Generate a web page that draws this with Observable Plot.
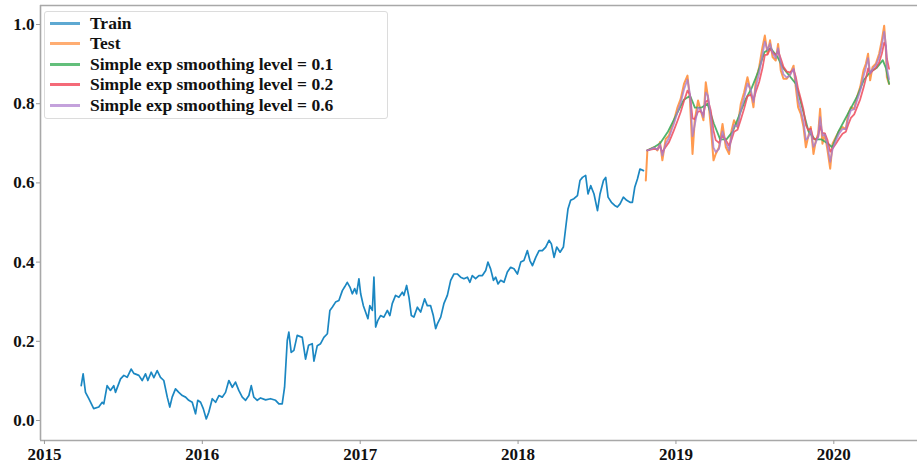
<!DOCTYPE html>
<html>
<head>
<meta charset="utf-8">
<script src="https://cdn.jsdelivr.net/npm/d3@7"></script>
<script src="https://cdn.jsdelivr.net/npm/@observablehq/plot@0.6"></script>
<style>
  html, body { margin: 0; padding: 0; background: #fff; }
  #wrap { position: relative; width: 917px; height: 465px; overflow: hidden; }
  #legend { position: absolute; left: 44px; top: 11px; width: 342px; height: 106px;
    border: 1px solid #dcdcdc; border-radius: 3px; background: rgba(255,255,255,0.85);
    font-family: "Liberation Serif", "DejaVu Serif", serif; font-weight: bold; font-size: 17.5px; color: #111; }
  .row { position: absolute; left: 0; height: 20px; display: flex; align-items: center; white-space: nowrap; }
  .sw { display: inline-block; width: 30px; height: 0; border-top: 3px solid; margin-left: 5px; margin-right: 10px; }
</style>
</head>
<body>
<div id="wrap"><div id="chart"></div><div id="legend"></div></div>
<script>
// ---- data (decimal years, normalised values) ----
const trainYears = [2015.233,2015.245,2015.260,2015.281,2015.312,2015.344,2015.366,2015.376,2015.397,2015.418,2015.439,2015.450,2015.482,2015.503,2015.524,2015.549,2015.566,2015.598,2015.619,2015.640,2015.655,2015.676,2015.693,2015.714,2015.735,2015.756,2015.778,2015.794,2015.809,2015.830,2015.851,2015.873,2015.894,2015.914,2015.936,2015.957,2015.971,2015.989,2016.006,2016.025,2016.041,2016.063,2016.084,2016.105,2016.126,2016.147,2016.168,2016.190,2016.210,2016.231,2016.253,2016.274,2016.295,2016.310,2016.326,2016.348,2016.369,2016.401,2016.432,2016.464,2016.485,2016.506,2016.521,2016.538,2016.548,2016.563,2016.580,2016.601,2016.633,2016.654,2016.673,2016.696,2016.707,2016.728,2016.749,2016.770,2016.792,2016.808,2016.823,2016.844,2016.865,2016.887,2016.901,2016.918,2016.935,2016.950,2016.965,2016.977,2016.992,2017.003,2017.020,2017.034,2017.049,2017.061,2017.077,2017.087,2017.098,2017.112,2017.129,2017.150,2017.172,2017.188,2017.203,2017.224,2017.245,2017.267,2017.277,2017.294,2017.309,2017.324,2017.340,2017.362,2017.383,2017.408,2017.425,2017.446,2017.463,2017.478,2017.489,2017.510,2017.530,2017.552,2017.573,2017.594,2017.615,2017.636,2017.657,2017.679,2017.695,2017.710,2017.731,2017.752,2017.774,2017.795,2017.809,2017.826,2017.844,2017.858,2017.873,2017.890,2017.911,2017.932,2017.953,2017.974,2017.996,2018.017,2018.037,2018.059,2018.075,2018.091,2018.112,2018.133,2018.154,2018.175,2018.196,2018.211,2018.228,2018.245,2018.266,2018.287,2018.302,2018.316,2018.333,2018.354,2018.376,2018.392,2018.408,2018.428,2018.443,2018.460,2018.481,2018.503,2018.519,2018.541,2018.555,2018.570,2018.591,2018.612,2018.629,2018.646,2018.667,2018.688,2018.709,2018.724,2018.739,2018.756,2018.772,2018.794];
const trainValues = [0.088,0.118,0.071,0.055,0.030,0.034,0.046,0.042,0.088,0.076,0.088,0.071,0.105,0.114,0.109,0.130,0.119,0.114,0.101,0.118,0.101,0.122,0.108,0.126,0.109,0.101,0.059,0.034,0.059,0.080,0.071,0.063,0.059,0.051,0.046,0.017,0.051,0.046,0.030,0.004,0.021,0.055,0.046,0.063,0.059,0.071,0.101,0.084,0.097,0.076,0.059,0.051,0.063,0.088,0.059,0.051,0.057,0.052,0.055,0.051,0.042,0.042,0.084,0.202,0.223,0.172,0.177,0.215,0.210,0.155,0.190,0.194,0.150,0.189,0.194,0.210,0.219,0.278,0.286,0.299,0.303,0.328,0.337,0.349,0.337,0.320,0.333,0.320,0.358,0.320,0.290,0.274,0.257,0.290,0.278,0.362,0.236,0.253,0.265,0.261,0.278,0.265,0.295,0.316,0.311,0.324,0.316,0.341,0.311,0.265,0.261,0.286,0.274,0.307,0.290,0.290,0.265,0.232,0.244,0.261,0.295,0.316,0.354,0.370,0.370,0.362,0.358,0.362,0.349,0.366,0.358,0.366,0.366,0.379,0.400,0.383,0.354,0.362,0.345,0.354,0.349,0.375,0.387,0.383,0.370,0.400,0.404,0.429,0.404,0.391,0.412,0.429,0.429,0.438,0.455,0.446,0.412,0.438,0.425,0.438,0.488,0.534,0.556,0.560,0.568,0.606,0.614,0.619,0.572,0.593,0.572,0.530,0.572,0.606,0.614,0.564,0.551,0.543,0.539,0.547,0.564,0.556,0.551,0.551,0.589,0.610,0.635,0.631];

const testYears = [2018.809,2018.819,2018.840,2018.861,2018.883,2018.899,2018.914,2018.935,2018.956,2018.972,2018.988,2019.010,2019.030,2019.051,2019.073,2019.089,2019.105,2019.119,2019.140,2019.157,2019.174,2019.189,2019.203,2019.221,2019.238,2019.252,2019.273,2019.295,2019.316,2019.337,2019.352,2019.368,2019.390,2019.411,2019.432,2019.453,2019.474,2019.491,2019.506,2019.527,2019.548,2019.563,2019.580,2019.596,2019.612,2019.632,2019.647,2019.664,2019.681,2019.702,2019.723,2019.745,2019.759,2019.774,2019.791,2019.808,2019.823,2019.837,2019.854,2019.871,2019.886,2019.901,2019.913,2019.928,2019.943,2019.960,2019.977,2019.992,2020.013,2020.034,2020.055,2020.076,2020.091,2020.108,2020.129,2020.146,2020.167,2020.188,2020.203,2020.217,2020.230,2020.245,2020.266,2020.287,2020.304,2020.319,2020.330,2020.336,2020.350];
const testValues = [0.606,0.682,0.686,0.690,0.682,0.703,0.657,0.711,0.720,0.741,0.758,0.791,0.812,0.850,0.871,0.808,0.673,0.758,0.808,0.783,0.758,0.854,0.816,0.741,0.657,0.673,0.690,0.749,0.690,0.673,0.732,0.758,0.741,0.800,0.829,0.867,0.829,0.791,0.859,0.892,0.943,0.972,0.926,0.960,0.918,0.909,0.951,0.884,0.863,0.863,0.875,0.896,0.842,0.791,0.774,0.741,0.690,0.716,0.741,0.673,0.707,0.724,0.787,0.699,0.724,0.682,0.636,0.699,0.716,0.732,0.741,0.736,0.774,0.791,0.787,0.816,0.842,0.884,0.901,0.926,0.859,0.892,0.901,0.926,0.960,0.997,0.934,0.867,0.850];

// smoothing fits (start at the second test date)
const ses06Values = [0.682,0.685,0.689,0.684,0.697,0.669,0.699,0.714,0.733,0.750,0.779,0.802,0.836,0.861,0.824,0.718,0.746,0.790,0.785,0.766,0.828,0.820,0.765,0.689,0.678,0.686,0.730,0.702,0.682,0.717,0.746,0.743,0.783,0.815,0.851,0.836,0.804,0.843,0.877,0.923,0.957,0.935,0.952,0.928,0.915,0.940,0.901,0.874,0.866,0.872,0.889,0.856,0.810,0.785,0.754,0.709,0.714,0.733,0.691,0.702,0.717,0.766,0.719,0.723,0.694,0.653,0.685,0.707,0.725,0.736,0.736,0.763,0.783,0.786,0.807,0.832,0.869,0.891,0.915,0.876,0.887,0.897,0.917,0.947,0.982,0.948,0.891,0.862];
const ses02Values = [0.682,0.684,0.686,0.685,0.692,0.678,0.691,0.703,0.718,0.734,0.757,0.779,0.807,0.833,0.823,0.763,0.761,0.780,0.781,0.772,0.805,0.809,0.782,0.732,0.708,0.701,0.720,0.708,0.694,0.709,0.729,0.734,0.760,0.788,0.819,0.823,0.810,0.830,0.855,0.890,0.923,0.924,0.938,0.930,0.922,0.933,0.914,0.893,0.881,0.879,0.886,0.868,0.837,0.812,0.784,0.746,0.734,0.737,0.711,0.710,0.716,0.744,0.726,0.725,0.708,0.679,0.687,0.699,0.712,0.724,0.729,0.747,0.764,0.773,0.790,0.811,0.840,0.864,0.889,0.877,0.883,0.890,0.904,0.926,0.954,0.946,0.914,0.888];
const ses01Years = [2018.819,2018.861,2018.900,2018.950,2019.000,2019.050,2019.090,2019.120,2019.160,2019.200,2019.240,2019.280,2019.320,2019.360,2019.400,2019.440,2019.480,2019.520,2019.560,2019.600,2019.640,2019.680,2019.720,2019.760,2019.800,2019.840,2019.880,2019.920,2019.960,2019.990,2020.030,2020.070,2020.110,2020.150,2020.190,2020.230,2020.270,2020.310,2020.330,2020.350];
const ses01Values = [0.682,0.690,0.700,0.730,0.770,0.810,0.820,0.790,0.790,0.800,0.750,0.710,0.710,0.730,0.770,0.810,0.840,0.880,0.930,0.940,0.920,0.890,0.870,0.850,0.790,0.730,0.710,0.710,0.700,0.690,0.730,0.760,0.790,0.820,0.860,0.880,0.890,0.910,0.890,0.850];

const yTicks = [0.0, 0.2, 0.4, 0.6, 0.8, 1.0];
const xTicks = [2015, 2016, 2017, 2018, 2019, 2020];

const seriesNames = ["Train", "Test", "Simple exp smoothing level = 0.1", "Simple exp smoothing level = 0.2", "Simple exp smoothing level = 0.6"];
const seriesColors = ["#1b87c2", "#ff8f3c", "#3daa5c", "#ee4a5a", "#a87ccc"];

// ---- build tables ----
const train = trainYears.map((x, i) => ({x, y: trainValues[i]}));
const test = testYears.map((x, i) => ({x, y: testValues[i]}));
const s06 = ses06Values.map((y, i) => ({x: testYears[i + 1], y}));
const s02 = ses02Values.map((y, i) => ({x: testYears[i + 1], y}));
const s01 = ses01Years.map((x, i) => ({x, y: ses01Values[i]}));

const font = "'Liberation Serif', 'DejaVu Serif', serif";
const xDomain = [2014.975, 2020.53];
const yDomain = [-0.0505, 1.048];

const chart = Plot.plot({
  width: 917,
  height: 465,
  marginLeft: 40,
  marginRight: 0,
  marginTop: 5,
  marginBottom: 25,
  style: {fontFamily: font, fontWeight: "bold", fontSize: "17px", color: "#111", background: "#fff"},
  x: {domain: xDomain},
  y: {domain: yDomain},
  marks: [
    Plot.ruleY(yDomain, {stroke: "#a8a8a8", strokeWidth: 1.6}),
    Plot.ruleX([xDomain[0]], {stroke: "#a8a8a8", strokeWidth: 1.6}),
    Plot.axisX({ticks: xTicks, tickFormat: d => String(d), tickSize: 4, tickPadding: 3, stroke: "#999", label: null}),
    Plot.axisY({ticks: yTicks, tickFormat: d3.format(".1f"), tickSize: 4, tickPadding: 2, stroke: "#999", label: null}),
    Plot.line(train, {x: "x", y: "y", stroke: seriesColors[0], strokeWidth: 1.7}),
    Plot.line(test, {x: "x", y: "y", stroke: seriesColors[1], strokeWidth: 2, strokeOpacity: 0.9}),
    Plot.line(s01, {x: "x", y: "y", stroke: seriesColors[2], strokeWidth: 1.8, strokeOpacity: 0.9}),
    Plot.line(s02, {x: "x", y: "y", stroke: seriesColors[3], strokeWidth: 1.8, strokeOpacity: 0.85}),
    Plot.line(s06, {x: "x", y: "y", stroke: seriesColors[4], strokeWidth: 1.8, strokeOpacity: 0.8})
  ]
});
document.getElementById("chart").appendChild(chart);

// ---- legend ----
const legend = document.getElementById("legend");
const swatchColors = ["#5ea9d2", "#ffad72", "#63bf7b", "#f46a78", "#c4a2dc"];
seriesNames.forEach((name, i) => {
  const row = document.createElement("div");
  row.className = "row";
  row.style.top = (1 + i * 20.5) + "px";
  const sw = document.createElement("span");
  sw.className = "sw";
  sw.style.borderColor = swatchColors[i];
  const t = document.createElement("span");
  t.textContent = name;
  row.appendChild(sw);
  row.appendChild(t);
  legend.appendChild(row);
});
</script>
</body>
</html>
